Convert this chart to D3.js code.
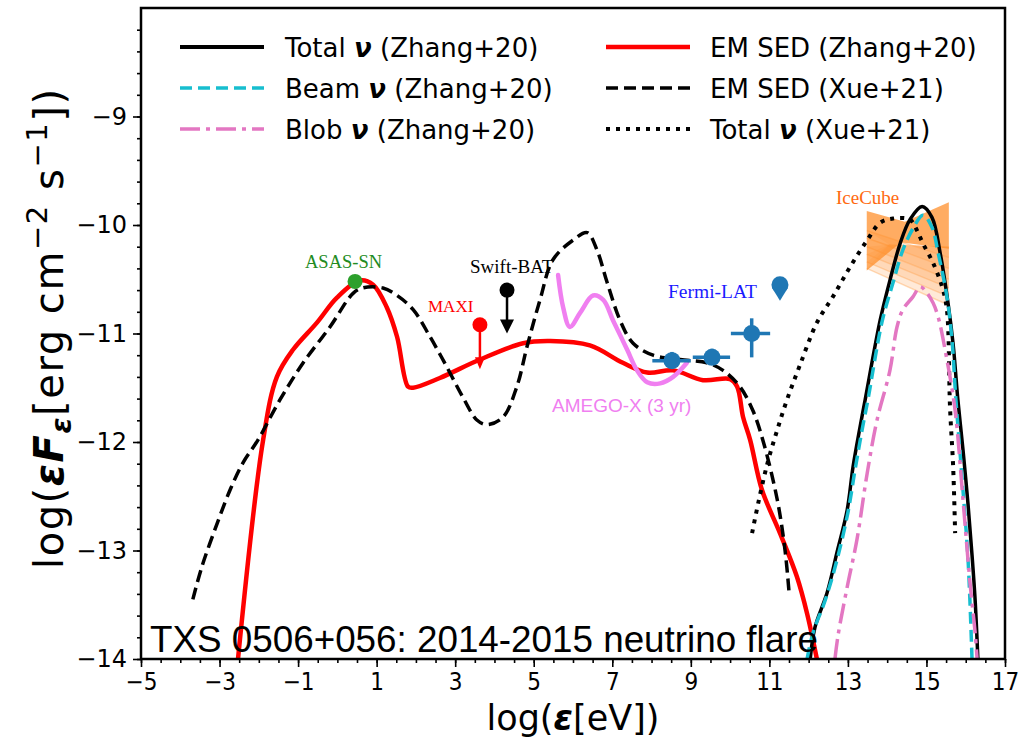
<!DOCTYPE html>
<html>
<head>
<meta charset="utf-8">
<script src="https://cdn.jsdelivr.net/npm/d3@7"></script>
<style>
  body { margin: 0; background: #fff; }
  text { font-family: "DejaVu Sans", sans-serif; }
</style>
</head>
<body>
<svg id="chart" width="1023" height="744"></svg>
<script>
// ---- Model curves: log10(energy / eV) vs log10(eF_e / erg cm^-2 s^-1) ----
const emZhangX = [-2.53, -1.89, -1.54, -1.13, -0.52, -0.01, 0.58, 0.91, 1.26, 1.52, 1.80, 1.93, 2.61, 3.63, 4.73, 5.42, 6.43, 7.27, 7.89, 8.55, 9.31, 10.00, 10.18, 10.33, 10.51, 10.81, 11.27, 11.70, 11.96, 12.21];
const emZhangY = [-14.0, -11.98, -11.40, -11.15, -10.90, -10.67, -10.51, -10.55, -10.76, -11.03, -11.49, -11.50, -11.41, -11.24, -11.09, -11.07, -11.11, -11.27, -11.36, -11.34, -11.43, -11.42, -11.49, -11.77, -11.98, -12.44, -12.84, -13.24, -13.58, -14.0];

const emXueX = [-3.68, -3.45, -3.06, -2.73, -2.40, -2.02, -1.46, -0.87, -0.19, 0.40, 0.65, 1.16, 1.52, 1.93, 2.36, 2.79, 3.20, 3.56, 3.81, 4.22, 4.57, 4.83, 5.16, 5.49, 6.00, 6.36, 6.61, 6.87, 7.20, 7.53, 8.04, 8.73, 9.41, 9.82, 10.25, 10.58, 10.84, 11.20, 11.40, 11.50];
const emXueY = [-13.45, -13.15, -12.75, -12.44, -12.19, -11.98, -11.61, -11.27, -10.94, -10.63, -10.58, -10.58, -10.65, -10.78, -11.03, -11.31, -11.59, -11.80, -11.84, -11.77, -11.49, -11.12, -10.69, -10.32, -10.14, -10.07, -10.23, -10.53, -10.88, -11.09, -11.20, -11.24, -11.27, -11.34, -11.49, -11.71, -11.99, -12.53, -13.00, -13.38];

const amegoX = [5.62, 5.75, 5.92, 6.18, 6.51, 6.77, 7.02, 7.38, 7.63, 7.89, 8.22, 8.55, 8.90];
const amegoY = [-10.46, -10.76, -10.94, -10.81, -10.65, -10.69, -10.88, -11.15, -11.34, -11.45, -11.46, -11.40, -11.27];

const totalNuZhangX = [12.04, 12.16, 12.47, 12.72, 12.98, 13.13, 13.31, 13.44, 13.82, 14.07, 14.33, 14.58, 14.89, 15.14, 15.35, 15.55, 15.68, 15.80, 15.93, 16.06, 16.16, 16.24, 16.31];
const totalNuZhangY = [-14.0, -13.71, -13.39, -13.02, -12.63, -12.23, -11.86, -11.61, -10.88, -10.51, -10.17, -9.95, -9.83, -9.93, -10.26, -10.72, -11.10, -11.61, -12.07, -12.58, -13.04, -13.46, -14.0];

const beamNuX = [11.96, 12.11, 12.42, 12.72, 13.00, 13.18, 13.36, 13.51, 13.87, 14.15, 14.40, 14.66, 14.91, 15.14, 15.30, 15.52, 15.65, 15.75, 15.91, 16.06, 16.16];
const beamNuY = [-14.0, -13.76, -13.46, -13.09, -12.65, -12.26, -11.89, -11.61, -10.89, -10.53, -10.23, -10.03, -9.91, -10.02, -10.26, -10.66, -11.06, -11.61, -12.35, -13.09, -14.0];

const blobNuX = [12.67, 12.75, 12.98, 13.23, 13.49, 13.74, 14.07, 14.25, 14.40, 14.66, 14.84, 15.02, 15.17, 15.30, 15.50, 15.73, 15.93, 16.11, 16.24, 16.29];
const blobNuY = [-14.0, -13.78, -13.34, -12.90, -12.29, -11.80, -11.34, -10.94, -10.78, -10.66, -10.57, -10.63, -10.72, -10.85, -11.20, -11.71, -12.53, -13.30, -13.76, -14.0];

const totalNuXueX = [10.56, 10.76, 10.97, 11.20, 11.45, 11.78, 12.21, 12.62, 13.05, 13.49, 13.82, 14.15, 14.58, 14.76, 14.91, 15.17, 15.40, 15.52, 15.60, 15.68, 15.73];
const totalNuXueY = [-12.84, -12.49, -12.17, -11.89, -11.61, -11.29, -10.90, -10.66, -10.39, -10.14, -9.98, -9.94, -9.95, -10.05, -10.17, -10.35, -10.57, -10.78, -11.68, -12.23, -12.84];

// ---- Observations ----
const asassnPoint = [0.45, -10.52];
const maxiLimit = [3.63, -10.92, -11.33];     // x, value, arrow tip
const swiftLimit = [4.32, -10.60, -11.00];    // x, value, arrow tip
const fermiX = [8.52, 9.54, 10.55];
const fermiY = [-11.25, -11.22, -11.00];
const fermiXLo = [8.02, 9.05, 10.02];
const fermiXHi = [9.00, 10.00, 11.02];
const fermiYLo = [-11.30, -11.27, -11.22];
const fermiYHi = [-11.17, -11.14, -10.86];
const fermiUL = [11.27, -10.57];

// IceCube butterfly: core band, plus the softer power-law fits fanning to lower right
const iceCoreX = [13.48, 14.45, 15.57, 15.57, 14.35, 13.48];
const iceCoreY = [-9.87, -9.97, -9.79, -10.22, -10.16, -10.42];
const iceApex = [14.05, -10.18];
const iceFanEnd = [-10.30, -10.40, -10.50, -10.58, -10.66, -10.74];
const iceFanLeftX = 13.48;
const iceFanLeftY = [-10.05, -10.12, -10.20, -10.27, -10.34, -10.40];

const xTicks = [-5, -3, -1, 1, 3, 5, 7, 9, 11, 13, 15, 17];
const yTicks = [-14, -13, -12, -11, -10, -9];

// ---- Layout ----
const svg = d3.select("#chart");
const L = 141, R = 1005, T = 8, B = 659;
const x = d3.scaleLinear().domain([-5, 17]).range([L, R]);
const y = d3.scaleLinear().domain([-14, -8]).range([B, T]);

svg.append("defs").append("clipPath").attr("id", "plotArea")
  .append("rect").attr("x", L).attr("y", T).attr("width", R - L).attr("height", B - T);

const plot = svg.append("g").attr("clip-path", "url(#plotArea)");

const zip = (xs, ys) => xs.map((v, i) => [v, ys[i]]);
const line = d3.line().x(d => x(d[0])).y(d => y(d[1])).curve(d3.curveCatmullRom.alpha(0.5));
const poly = d3.line().x(d => x(d[0])).y(d => y(d[1]));

// IceCube butterfly
iceFanEnd.forEach((ye, i) => {
  plot.append("path")
    .attr("d", poly([[iceFanLeftX, iceFanLeftY[i]], [15.57, ye], [15.57, -10.2], [iceApex[0], iceApex[1]]]) + "Z")
    .attr("fill", "#ffa04d").attr("fill-opacity", 0.22);
  plot.append("line")
    .attr("x1", x(iceFanLeftX)).attr("y1", y(iceFanLeftY[i]))
    .attr("x2", x(15.57)).attr("y2", y(ye))
    .attr("stroke", "#ff9a40").attr("stroke-opacity", 0.35).attr("stroke-width", 1.5);
});
plot.append("path")
  .attr("d", poly(zip(iceCoreX, iceCoreY)) + "Z")
  .attr("fill", "#ff8c26").attr("fill-opacity", 0.72);

function curve(xs, ys, color, width, dash) {
  const p = plot.append("path")
    .attr("d", line(zip(xs, ys)))
    .attr("fill", "none").attr("stroke", color).attr("stroke-width", width)
    .attr("stroke-linejoin", "round");
  if (dash) p.attr("stroke-dasharray", dash);
  return p;
}

curve(emZhangX, emZhangY, "#ff0000", 4.5);
curve(amegoX, amegoY, "#f07ff0", 4.5).attr("stroke-linecap", "round");
curve(emXueX, emXueY, "#000000", 3.5, "12,6");
curve(totalNuXueX, totalNuXueY, "#000000", 4, "4,6");
curve(totalNuZhangX, totalNuZhangY, "#000000", 3.5);
curve(beamNuX, beamNuY, "#17becf", 3.5, "12,6");
curve(blobNuX, blobNuY, "#e377c2", 3.5, "20,6,4,6");

// ASAS-SN
plot.append("circle").attr("cx", x(asassnPoint[0])).attr("cy", y(asassnPoint[1])).attr("r", 7.5).attr("fill", "#2ca02c");

// Upper limits with arrows
function upperLimit(d, color, headW, headH) {
  const cx = x(d[0]), cy = y(d[1]), tip = y(d[2]);
  plot.append("line").attr("x1", cx).attr("x2", cx).attr("y1", cy).attr("y2", tip - headH + 1)
    .attr("stroke", color).attr("stroke-width", 2.5);
  plot.append("path")
    .attr("d", `M${cx - headW},${tip - headH}L${cx + headW},${tip - headH}L${cx},${tip}Z`)
    .attr("fill", color);
  plot.append("circle").attr("cx", cx).attr("cy", cy).attr("r", 7.5).attr("fill", color);
}
upperLimit(maxiLimit, "#ff0000", 5, 12);
upperLimit(swiftLimit, "#000000", 7, 14);

// Fermi-LAT
const fermiBlue = "#1f77b4";
fermiX.forEach((v, i) => {
  plot.append("line").attr("x1", x(fermiXLo[i])).attr("x2", x(fermiXHi[i]))
    .attr("y1", y(fermiY[i])).attr("y2", y(fermiY[i]))
    .attr("stroke", fermiBlue).attr("stroke-width", 3.5);
  plot.append("line").attr("x1", x(v)).attr("x2", x(v))
    .attr("y1", y(fermiYLo[i])).attr("y2", y(fermiYHi[i]))
    .attr("stroke", fermiBlue).attr("stroke-width", 3.5);
  plot.append("circle").attr("cx", x(v)).attr("cy", y(fermiY[i])).attr("r", 8.5).attr("fill", fermiBlue);
});
{
  const cx = x(fermiUL[0]), cy = y(fermiUL[1]);
  plot.append("circle").attr("cx", cx).attr("cy", cy - 2).attr("r", 8.5).attr("fill", fermiBlue);
  plot.append("path").attr("d", `M${cx - 8},${cy + 1}L${cx + 8},${cy + 1}L${cx},${cy + 14}Z`).attr("fill", fermiBlue);
}

// Instrument labels
const serif = "'Liberation Serif', 'DejaVu Serif', serif";
function label(txt, px, py, color, size, family) {
  svg.append("text").attr("x", px).attr("y", py).text(txt)
    .attr("fill", color).style("font-family", family || serif).style("font-size", size + "px");
}
label("ASAS-SN", 305, 268, "#228b22", 18.5);
label("MAXI", 428, 312, "#ff0000", 17);
label("Swift-BAT", 470, 273, "#000000", 19);
label("Fermi-LAT", 668, 298, "#1a1aff", 19.5);
label("IceCube", 836, 204, "#ff6a10", 19);
label("AMEGO-X (3 yr)", 552, 412, "#f07ff0", 19, "'Liberation Sans', Arial, sans-serif");

svg.append("text").attr("x", 150).attr("y", 652)
  .text("TXS 0506+056: 2014-2015 neutrino flare")
  .style("font-family", "'Liberation Sans', Arial, sans-serif").style("font-size", "36.8px");

// ---- Axes ----
const xAxis = svg.append("g").attr("transform", `translate(0,${B})`)
  .call(d3.axisBottom(x).tickValues(xTicks).tickSize(8).tickPadding(6).tickFormat(d3.format("d")));
xAxis.selectAll("text").style("font-family", "'DejaVu Sans Condensed', 'DejaVu Sans', sans-serif").style("font-size", "24px").attr("fill", "#000");
svg.append("g").attr("transform", `translate(0,${B})`)
  .call(d3.axisBottom(x).tickValues(d3.range(-5, 17.01, 0.5)).tickSize(4).tickFormat(""));

const yAxis = svg.append("g").attr("transform", `translate(${L},0)`)
  .call(d3.axisLeft(y).tickValues(yTicks).tickSize(8).tickPadding(6).tickFormat(d3.format("d")));
yAxis.selectAll("text").style("font-size", "24px").attr("fill", "#000");
svg.append("g").attr("transform", `translate(${L},0)`)
  .call(d3.axisLeft(y).tickValues(d3.range(-14, -8.0, 0.2)).tickSize(4).tickFormat(""));

svg.selectAll(".domain").remove();
svg.selectAll(".tick line").attr("stroke", "#000").attr("stroke-width", 1.6);

svg.append("rect").attr("x", L).attr("y", T).attr("width", R - L).attr("height", B - T)
  .attr("fill", "none").attr("stroke", "#000").attr("stroke-width", 2.5);

// Axis titles
const xt = svg.append("text").attr("x", 573).attr("y", 730).attr("text-anchor", "middle").style("font-size", "35px");
xt.append("tspan").text("log(");
xt.append("tspan").text("ε").style("font-weight", "bold").style("font-style", "italic");
xt.append("tspan").text("[eV])");

const yt = svg.append("text").attr("transform", "translate(63,329) rotate(-90)")
  .attr("text-anchor", "middle").style("font-size", "40px")
  .attr("textLength", 480).attr("lengthAdjust", "spacing");
yt.append("tspan").text("log(");
yt.append("tspan").text("εF").style("font-weight", "bold").style("font-style", "italic");
yt.append("tspan").text("ε").style("font-weight", "bold").style("font-style", "italic").style("font-size", "29px").attr("dy", 8);
yt.append("tspan").text("[erg cm").attr("dy", -8);
yt.append("tspan").text("−2").style("font-size", "29px").attr("dy", -16);
yt.append("tspan").text(" s").attr("dy", 16);
yt.append("tspan").text("−1").style("font-size", "29px").attr("dy", -16);
yt.append("tspan").text("])").attr("dy", 16);

// ---- Legend ----
const legendItems = [
  { col: 0, row: 0, color: "#000", dash: null, w: 4, name: "Total", tag: "(Zhang+20)", nu: true },
  { col: 0, row: 1, color: "#17becf", dash: "12,6", w: 3.5, name: "Beam", tag: "(Zhang+20)", nu: true },
  { col: 0, row: 2, color: "#e377c2", dash: "20,6,4,6", w: 3.5, name: "Blob", tag: "(Zhang+20)", nu: true },
  { col: 1, row: 0, color: "#ff0000", dash: null, w: 4.5, name: "EM SED", tag: "(Zhang+20)", nu: false },
  { col: 1, row: 1, color: "#000", dash: "12,6", w: 3.5, name: "EM SED", tag: "(Xue+21)", nu: false },
  { col: 1, row: 2, color: "#000", dash: "4,6", w: 4, name: "Total", tag: "(Xue+21)", nu: true }
];
const colLine = [180, 606], colText = [285, 710], rowY = [47, 88, 129];
legendItems.forEach(d => {
  const ly = rowY[d.row];
  const ln = svg.append("line").attr("x1", colLine[d.col]).attr("x2", colLine[d.col] + 84)
    .attr("y1", ly).attr("y2", ly).attr("stroke", d.color).attr("stroke-width", d.w);
  if (d.dash) ln.attr("stroke-dasharray", d.dash);
  const t = svg.append("text").attr("x", colText[d.col]).attr("y", ly + 9.5).style("font-size", "26px");
  t.append("tspan").text(d.name + " ");
  if (d.nu) {
    t.append("tspan").text("ν").style("font-weight", "bold").style("font-style", "italic");
    t.append("tspan").text(" ");
  }
  t.append("tspan").text(d.tag);
});
</script>
</body>
</html>
